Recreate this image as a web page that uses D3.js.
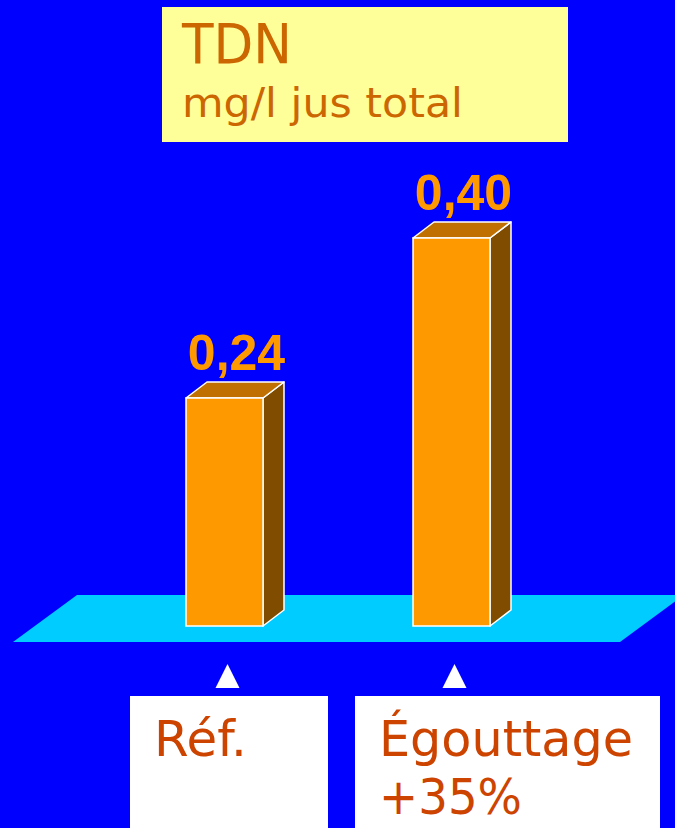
<!DOCTYPE html>
<html>
<head>
<meta charset="utf-8">
<script src="https://cdn.jsdelivr.net/npm/d3@7"></script>
<style>
  html, body { margin: 0; padding: 0; background: #0000ff; }
  svg { display: block; }
</style>
</head>
<body>
<script>
// TDN in total juice (mg/l): reference vs. drip-drained
const categories = ["Réf.", "Égouttage +35%"];
const categoryLines = [["Réf."], ["Égouttage", "+35%"]];
const values = [0.24, 0.40];
const valueLabels = ["0,24", "0,40"];
const titleLines = ["TDN", "mg/l jus total"];

const W = 675, H = 828;
const svg = d3.select("body").append("svg")
  .attr("width", W).attr("height", H);

svg.append("rect").attr("width", W).attr("height", H).attr("fill", "#0000ff");

// scales
const x = d3.scalePoint().domain(categories).range([224.5, 451.5]);
const y = d3.scaleLinear().domain([0, 0.4]).range([638, 238]);

const barW = 77, dx = 21, dy = -16;
const floorFront = 626;

// narrow-set text helper: fixes the rendered width of a run of text
function fitText(sel, width) {
  return sel.attr("textLength", width).attr("lengthAdjust", "spacingAndGlyphs");
}

// title box
svg.append("rect").attr("x", 162).attr("y", 7).attr("width", 406).attr("height", 135)
  .attr("fill", "#ffff99");
fitText(svg.append("text").attr("x", 182).attr("y", 63)
  .attr("font-family", "DejaVu Sans").attr("font-size", 55).attr("fill", "#cc6600")
  .text(titleLines[0]), 110);
fitText(svg.append("text").attr("x", 182).attr("y", 117)
  .attr("font-family", "DejaVu Sans").attr("font-size", 40).attr("fill", "#cc6600")
  .text(titleLines[1]), 281);

// floor
svg.append("path")
  .attr("d", "M13,642 L620,642 L684,595 L77,595 Z")
  .attr("fill", "#00ccff");

// 3D bars
const bars = svg.append("g").selectAll("g").data(values).join("g");
bars.each(function(v, i) {
  const g = d3.select(this);
  const x0 = x(categories[i]) - barW / 2, x1 = x0 + barW;
  const yt = y(v), yb = floorFront;
  // side
  g.append("path")
    .attr("d", `M${x1},${yt} L${x1 + dx},${yt + dy} L${x1 + dx},${yb + dy} L${x1},${yb} Z`)
    .attr("fill", "#7f4c00").attr("stroke", "#fff").attr("stroke-width", 1.5)
    .attr("stroke-linejoin", "round");
  // top
  g.append("path")
    .attr("d", `M${x0},${yt} L${x0 + dx},${yt + dy} L${x1 + dx},${yt + dy} L${x1},${yt} Z`)
    .attr("fill", "#c07000").attr("stroke", "#fff").attr("stroke-width", 1.5)
    .attr("stroke-linejoin", "round");
  // front
  g.append("rect")
    .attr("x", x0).attr("y", yt).attr("width", barW).attr("height", yb - yt)
    .attr("fill", "#ff9900").attr("stroke", "#fff").attr("stroke-width", 1.5);
  // value label
  g.append("text")
    .attr("x", x(categories[i]) + 12).attr("y", yt - 28)
    .attr("text-anchor", "middle")
    .attr("font-family", "Liberation Sans, Arial, sans-serif")
    .attr("font-weight", "bold").attr("font-size", 50).attr("fill", "#ff9900")
    .text(valueLabels[i]);
});

// pointers
svg.append("g").selectAll("path").data(categories).join("path")
  .attr("d", d => { const c = x(d) + 3; return `M${c},664 L${c + 12},688 L${c - 12},688 Z`; })
  .attr("fill", "#fff");

// category boxes, each label set as one text block
const boxes = [[130, 198], [355, 305]];
const lineWidths = [[93], [254, 143]];
categories.forEach((c, i) => {
  svg.append("rect").attr("x", boxes[i][0]).attr("y", 696)
    .attr("width", boxes[i][1]).attr("height", H - 696).attr("fill", "#fff");
  const t = svg.append("text")
    .attr("font-family", "DejaVu Sans").attr("font-size", 49).attr("fill", "#cc4400");
  categoryLines[i].forEach((line, j) => {
    fitText(t.append("tspan")
      .attr("x", boxes[i][0] + 24).attr("y", 756 + j * 58)
      .text(line), lineWidths[i][j]);
  });
});
</script>
</body>
</html>
